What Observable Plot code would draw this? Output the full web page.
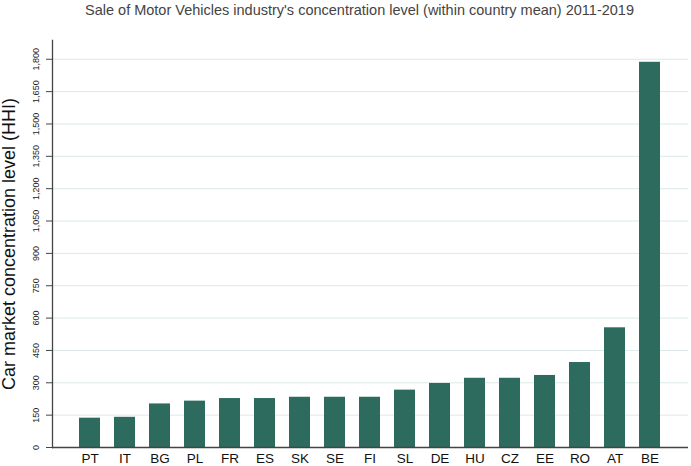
<!DOCTYPE html>
<html>
<head>
<meta charset="utf-8">
<script src="https://cdn.jsdelivr.net/npm/d3@7"></script>
<script src="https://cdn.jsdelivr.net/npm/@observablehq/plot@0.6"></script>
<style>
  body { margin: 0; background: #fff; }
  svg { font-family: Arial, "Liberation Sans", sans-serif; }
</style>
</head>
<body>
<div id="chart"></div>
<script>
const countries = ["PT","IT","BG","PL","FR","ES","SK","SE","FI","SL","DE","HU","CZ","EE","RO","AT","BE"];
const hhi = [136, 140, 202, 215, 227, 227, 233, 233, 233, 266, 297, 321, 321, 334, 394, 555, 1786];
const yTicks = [0,150,300,450,600,750,900,1050,1200,1350,1500,1650,1800];
const title = "Sale of Motor Vehicles industry's concentration level (within country mean) 2011-2019";
const yLabel = "Car market concentration level (HHI)";

const data = countries.map((c, i) => ({country: c, value: hhi[i]}));
const fmt = d3.format(",");

const chart = Plot.plot({
  width: 691,
  height: 466,
  marginLeft: 52,
  marginRight: 3,
  marginTop: 40,
  marginBottom: 19,
  style: {fontFamily: "Arial, 'Liberation Sans', sans-serif", background: "#fff"},
  x: {domain: countries, padding: 0.39, paddingOuter: 0.665, align: 0.5, label: null},
  y: {domain: [0, 1887], label: null},
  marks: [
    Plot.gridY(yTicks, {stroke: "#dce9ea", strokeOpacity: 1, strokeWidth: 1}),
    Plot.barY(data, {x: "country", y: "value", fill: "#2e6b5f"}),
    Plot.ruleY([0], {stroke: "#444", strokeWidth: 1.3}),
    Plot.frame({anchor: "left", stroke: "#444", strokeWidth: 1.3}),
    Plot.axisY(yTicks, {tickFormat: fmt, tickRotate: -90, tickSize: 6, tickPadding: 8, fontSize: 9, color: "#222", stroke: "#444", label: null}),
    Plot.axisX({tickSize: 0, tickPadding: 6, fontSize: 13.5, color: "#111", label: null}),
    Plot.text([yLabel], {frameAnchor: "left", dx: -43, rotate: -90, fontSize: 18, fill: "#111", textAnchor: "middle"}),
    Plot.text([title], {frameAnchor: "top", dy: -36, dx: -11, fontSize: 14.5, fill: "#444"})
  ]
});
document.getElementById("chart").appendChild(chart);
</script>
</body>
</html>
